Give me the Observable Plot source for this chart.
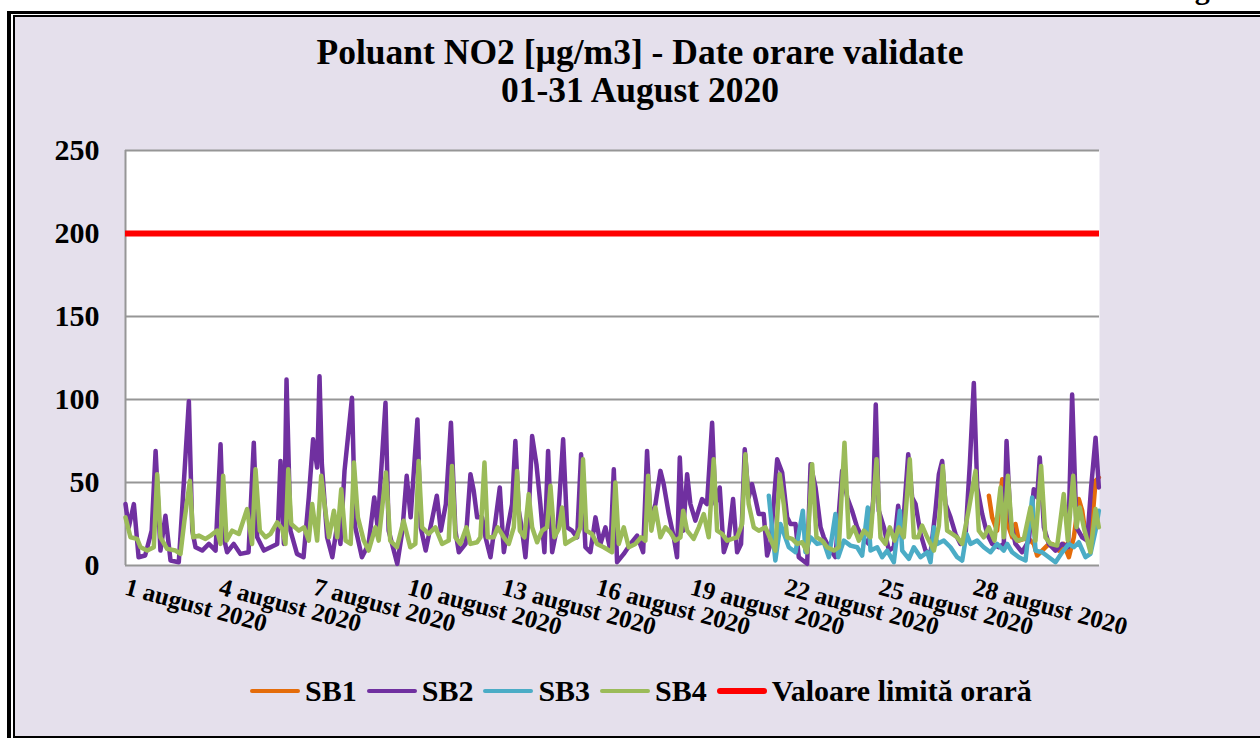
<!DOCTYPE html>
<html>
<head>
<meta charset="utf-8">
<script src="https://cdn.jsdelivr.net/npm/d3@7"></script>
<script src="https://cdn.jsdelivr.net/npm/@observablehq/plot@0.6"></script>
<style>
  body { margin: 0; background: #ffffff; }
  #wrap { position: relative; width: 1260px; height: 738px; overflow: hidden; background: #ffffff;
          font-family: "Liberation Serif", "Times New Roman", serif; font-weight: bold; color: #000; }
  #frameOuter { position: absolute; left: 7px; top: 11px; width: 1300px; height: 727px; box-sizing: border-box;
                border-left: 4px solid #000; border-top: 3px solid #000; background: #ffffff; }
  #frameInner { position: absolute; left: 2px; top: 1px; right: 0; bottom: 0; box-sizing: border-box;
                border-left: 2px solid #000; border-top: 2px solid #000; border-bottom: 2px solid #000; background: #E5E0EC; }
  #fig { position: absolute; left: 1168px; top: -26px; font-size: 30px; line-height: 30px; white-space: nowrap; }
  #title { position: absolute; left: 0; width: 1280px; top: 33px; text-align: center; font-size: 35.5px; line-height: 38px; }
  #chart { position: absolute; left: 0; top: 0; }
  #legend { position: absolute; left: 250px; top: 676px; height: 30px; display: flex; align-items: center;
            font-size: 30px; line-height: 30px; white-space: nowrap; }
  .sw { display: inline-block; width: 50px; height: 4px; border-radius: 2px; margin-right: 5px; }
  .item { display: flex; align-items: center; margin-right: 10px; }
</style>
</head>
<body>
<div id="wrap">
  <div id="frameOuter"><div id="frameInner"></div></div>
  <div id="fig">Fig. 1</div>
  <div id="title"></div>
  <div id="chart"></div>
  <div id="legend"></div>
</div>
<script>
// ---------- data (hours since 01 Aug 2020 00:00, values in µg/m3) ----------
const titleLines = ["Poluant NO2 [µg/m3] - Date orare validate", "01-31 August 2020"];
const seriesNames = ["SB1", "SB2", "SB3", "SB4", "Valoare limită orară"];
const seriesColors = ["#E46C0A", "#7030A0", "#4BACC6", "#9BBB59", "#FF0000"];
const yTicks = [0, 50, 100, 150, 200, 250];
const tickDays = [1, 4, 7, 10, 13, 16, 19, 22, 25, 28];
const tickMonthLabel = "august 2020";
const limitValue = [200];

const sb1Hours = [659.5,662,665.8,669.7,672.2,674.7,677.3,679.8,682.4,686.2,690,693.8,696.4,700.2,704,707.8,712.9,716.7,720.6,724.4,728.2,730.8,733.3,737.1,741,743.5];
const sb1Values = [42,29,21,52,49,23,17,25,15,16,16,13,6,9,12,13,9,13,5,17,40,33,19,13,51,53];

const sb2Hours = [0,2.5,6.4,10,15,20,23,26.7,30.5,34.4,40.7,44.5,48.4,51,53.5,58.6,63.7,68.8,72.6,75,77.6,82.7,87.8,94,98,100.6,105.7,110.8,115.9,118.4,121,123,126,131,136,140,143.3,146.4,148.2,150,154,158,162,164.2,167.3,173,175.5,180.6,185.7,190,192.6,198.6,201,207.6,211.5,214.8,217.8,223,225.5,229.3,234.5,237.8,240.9,244.7,248.6,
252,254.6,259.7,263.5,266,268.6,272.4,275,278.8,282.6,285.9,289,292,295.3,297.8,300.4,303,305.5,308,310.6,313.9,316.9,320,322.8,325.9,330.2,334.3,337.3,341.1,345,348,351.3,355.1,359,362.8,366.6,370.4,373,375.5,380.6,385.7,390.8,395.4,398.4,401,404.8,408.6,411.1,415,418.8,421.3,423.4,426,429,431.5,435.3,440.4,444.2,448.1,450.6,453.9,457,460.8,464.1,467.2,470.2,473,476,478.6,481.2,483.7,487.5,490.1,
492.7,497.8,501.6,505.4,508,511.8,514.3,520.7,523.3,527.1,530.9,533.4,537.3,542.3,547.4,551.3,555,558.9,562.7,567.8,571.1,573.1,575.4,579.3,583.1,586.9,590.2,593.3,597.9,600.9,603.5,607.3,611.1,614.9,618.7,621.3,623.8,626.4,630.2,634,637.8,641.6,645,648,650.6,654.4,658.2,662,667.1,670.9,673,676,679.8,684.9,690,693.8,696.4,698.4,701.5,705.3,710.4,715.5,720,723.1,726.4,730.8,734.6,737.6,741,743.5];
const sb2Values = [37,23,37,5,6,21,69,9,30,3,2,49,99,21,11,9,13,9,73,17,8,13,7,8,74,17,9,11,13,63,13,112,21,7,5,41,76,59,114,61,17,5,26,13,57,101,23,5,13,41,23,98,21,1,21,54,29,88,23,9,29,42,21,37,86,
21,8,13,55,45,29,29,17,5,27,47,8,23,37,75,33,21,5,31,78,61,37,8,69,8,25,76,23,21,17,67,11,8,29,13,23,9,58,2,7,13,18,8,69,27,37,57,49,31,17,5,65,21,55,37,27,40,37,86,37,47,8,17,40,8,13,70,41,49,40,31,31,6,
13,64,56,29,25,25,5,1,61,47,23,17,11,5,57,41,33,23,17,13,39,97,33,23,9,11,36,17,67,41,37,19,9,7,33,55,63,37,29,19,13,17,62,110,47,31,19,13,11,13,75,27,13,8,15,46,41,65,23,13,9,13,11,103,23,17,15,47,77,47];

const sb3Hours = [491.4,496.4,500.3,506.7,511.8,517.4,519.4,523.3,528.3,533.4,537.3,542.3,544.4,548.7,553.8,558.9,562.7,567,569.1,574.2,578,581.8,586.9,591.5,593.3,598.4,602.2,607.3,612.4,614.9,617.5,620,625.1,630.2,635.3,639.1,642.4,645.5,650.6,655.6,660.7,665.8,670.9,673.5,677.3,682.4,687.5,692.6,695.1,700.2,705.3,710.4,715.5,720.6,724.4,728.2,733.3,737.1,741,743.5];
const sb3Values = [42,3,25,11,8,33,8,17,13,14,5,31,5,15,12,11,6,35,9,11,5,9,2,33,9,4,11,5,8,2,23,13,15,11,5,3,19,13,15,11,8,13,9,13,8,5,3,41,9,8,5,2,8,13,11,14,5,7,21,33];

const sb4Hours = [0,3.8,8.9,11.5,16.6,21.6,24.2,26.7,31.8,38.2,42,45,49.2,51.7,56,61.1,65,70,72.6,74.6,77.2,81.5,86.6,92.9,96.7,99.3,102.6,107,110.8,115.9,119.7,122.2,124.3,126.6,132.4,136.3,140,142.6,146.4,149.5,152,155.4,159.2,161.7,164.8,168.1,172,174.5,177.5,182,185.7,190.9,193.4,198.9,202.2,207.3,212.4,217.5,221.4,223.9,226.5,231.6,236.7,241.8,246.9,249.4,
252,255.8,260.4,263.5,268.6,271.1,274.2,276.7,281.3,284.3,289,292.8,296.6,299.1,301.2,304.7,308,310.6,314.4,318.2,322,324.6,327.6,331,333.5,336,339.9,344.4,347.5,349.5,352,356.4,360.2,365.3,371.7,374.2,376.8,380.6,384.4,389.5,393.8,397.1,399.2,401.7,404.8,408.6,412.4,416.2,420,423.9,426,429,434,437.9,441.7,445.5,449.3,451.9,455.7,459.5,463.3,467.2,471,473.5,476,479.9,483.7,488.8,492.6,496.4,499.7,502.8,
505.4,509.2,513,516.9,520.7,524.5,527.8,532.2,536,541.1,544.9,549.2,552.5,556.4,560.2,564,569.1,573.7,576.7,580.5,583.8,587.4,590.7,594.5,599.1,602.2,605.5,608.5,612.4,617.5,621.3,624.3,627.6,631.5,635.3,639.1,644.2,649.3,651.8,655.6,659.5,663.8,668.4,670.9,674,677.3,681.1,686.2,691.3,695.1,699.4,702.7,706.6,711.7,716.7,719.8,723.9,726.4,728.9,732,737.1,741,743.5];
const sb4Values = [29,17,16,11,9,11,55,17,10,9,7,27,51,17,18,16,18,21,13,54,15,21,19,34,13,58,21,17,19,26,22,13,58,25,21,23,15,37,15,54,37,17,33,17,46,15,13,62,29,15,9,23,15,56,15,11,27,11,13,63,23,19,23,13,15,60,
17,13,23,13,14,17,62,17,17,23,17,13,23,57,21,17,43,23,14,21,23,48,17,22,35,13,15,17,23,64,21,19,13,11,8,50,13,23,11,13,17,15,54,21,35,17,23,20,15,17,33,21,16,23,31,17,64,21,19,15,16,17,25,67,37,23,21,23,16,9,55,37,
17,16,13,14,8,61,17,15,11,9,11,74,17,23,15,21,17,64,17,13,23,15,23,17,64,17,17,24,17,9,24,60,21,19,17,13,34,57,21,17,23,15,47,17,54,19,15,16,35,15,60,17,13,12,43,15,54,23,35,23,8,34,23];

// ---------- build ----------
const base = Date.UTC(2020, 7, 1);
const toDate = h => new Date(base + h * 3600e3);
const mk = (hs, vs) => hs.map((h, i) => ({t: toDate(h), v: vs[i]}));
const seriesData = [mk(sb1Hours, sb1Values), mk(sb2Hours, sb2Values), mk(sb3Hours, sb3Values), mk(sb4Hours, sb4Values)];
const tickDates = tickDays.map(d => new Date(Date.UTC(2020, 7, d)));
const font = "'Liberation Serif', 'Times New Roman', serif";

document.getElementById("title").innerHTML = titleLines.join("<br>");

const chart = Plot.plot({
  width: 1260,
  height: 738,
  marginLeft: 125,
  marginRight: 161,
  marginTop: 150,
  marginBottom: 173,
  style: {background: "transparent", overflow: "visible", fontFamily: font, color: "#000"},
  x: {type: "utc", domain: [toDate(0), toDate(744)], label: null},
  y: {domain: [0, 250], label: null},
  marks: [
    Plot.frame({fill: "#ffffff", stroke: "none"}),
    Plot.ruleY(yTicks, {stroke: "#969696", strokeWidth: 2}),
    Plot.ruleX([toDate(0)], {stroke: "#969696", strokeWidth: 2}),
    ...seriesData.map((d, i) => Plot.line(d, {x: "t", y: "v", stroke: seriesColors[i], strokeWidth: 4.5,
      strokeLinejoin: "round", strokeLinecap: "round"})),
    Plot.ruleY(limitValue, {stroke: seriesColors[4], strokeWidth: 6}),
    Plot.axisY({ticks: yTicks, tickSize: 0, tickPadding: 26, fontSize: 30, fontWeight: "bold",
      fontFamily: font, label: null, tickFormat: d => String(d)}),
    Plot.axisX({ticks: tickDates, tickSize: 0, tickPadding: 21, tickRotate: 15, textAnchor: "start",
      fontSize: 25, fontWeight: "bold", fontFamily: font, label: null,
      tickFormat: d => `${d.getUTCDate()} ${tickMonthLabel}`})
  ]
});
document.getElementById("chart").appendChild(chart);

const legend = document.getElementById("legend");
seriesNames.forEach((name, i) => {
  const item = document.createElement("div");
  item.className = "item";
  const sw = document.createElement("span");
  sw.className = "sw";
  sw.style.background = seriesColors[i];
  if (i === 4) { sw.style.height = "6px"; sw.style.borderRadius = "3px"; }
  const tx = document.createElement("span");
  tx.textContent = name;
  item.appendChild(sw);
  item.appendChild(tx);
  legend.appendChild(item);
});
</script>
</body>
</html>
